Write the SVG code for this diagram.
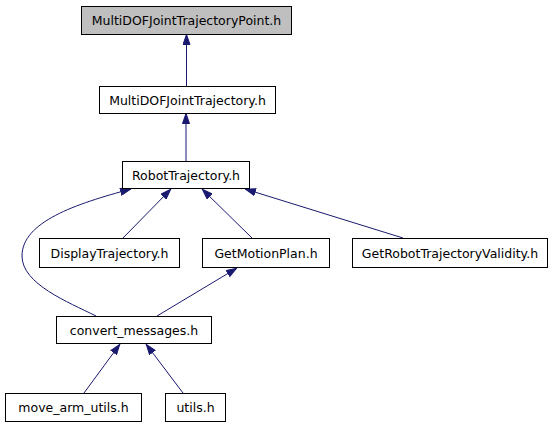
<svg xmlns="http://www.w3.org/2000/svg" width="552" height="427" viewBox="0 0 552 427">
<style>
.node rect{fill:#ffffff;stroke:#000000;stroke-width:1}
.node.root rect{fill:#bfbfbf}
.node text{font-family:"DejaVu Sans",sans-serif;font-size:12.5px;text-anchor:middle;fill:#000000}
.edge{fill:none;stroke:#191970;stroke-width:1;marker-end:url(#arr)}
</style>
<defs>
<marker id="arr" viewBox="0 0 11 8" refX="11" refY="4" markerWidth="11" markerHeight="8" markerUnits="userSpaceOnUse" orient="auto">
<path d="M0.5,0.5 L10.5,4 L0.5,7.5 z" fill="#191970" stroke="#191970" stroke-width="1"/>
</marker>
</defs>
<rect width="552" height="427" fill="#ffffff"/>
<g id="connectors">
<path class="edge" d="M186.5,86 L186.5,34"/>
<path class="edge" d="M186,161 L186,113"/>
<path class="edge" d="M96,316 C68,302 22,284 22,256 C22,222 75,204 131,189"/>
<path class="edge" d="M123,238 L171,189"/>
<path class="edge" d="M252,238 L202,189"/>
<path class="edge" d="M403,238 L245,189"/>
<path class="edge" d="M157,316 L237,268"/>
<path class="edge" d="M84,393 L120,344"/>
<path class="edge" d="M183,393 L146,344"/>
</g>
<g id="n_MultiDOFJointTrajectoryPoint" class="node root"><rect x="81.5" y="6.5" width="210" height="28"/><text x="186.5" y="25">MultiDOFJointTrajectoryPoint.h</text></g>
<g id="n_MultiDOFJointTrajectory" class="node"><rect x="99.5" y="86.5" width="176" height="27"/><text x="187.5" y="104.5">MultiDOFJointTrajectory.h</text></g>
<g id="n_RobotTrajectory" class="node"><rect x="122.5" y="161.5" width="127" height="27"/><text x="186" y="179.5">RobotTrajectory.h</text></g>
<g id="n_DisplayTrajectory" class="node"><rect x="39.5" y="238.5" width="140" height="29"/><text x="109.5" y="257.5">DisplayTrajectory.h</text></g>
<g id="n_GetMotionPlan" class="node"><rect x="202.5" y="238.5" width="127" height="29"/><text x="266" y="257.5">GetMotionPlan.h</text></g>
<g id="n_GetRobotTrajectoryValidity" class="node"><rect x="352.5" y="238.5" width="195" height="29"/><text x="450" y="257.5">GetRobotTrajectoryValidity.h</text></g>
<g id="n_convert_messages" class="node"><rect x="56.5" y="316.5" width="155" height="27"/><text x="134" y="334.5">convert_messages.h</text></g>
<g id="n_move_arm_utils" class="node"><rect x="5.5" y="393.5" width="136" height="28"/><text x="73.5" y="412">move_arm_utils.h</text></g>
<g id="n_utils" class="node"><rect x="165.5" y="393.5" width="60" height="28"/><text x="195.5" y="412">utils.h</text></g>
</svg>
